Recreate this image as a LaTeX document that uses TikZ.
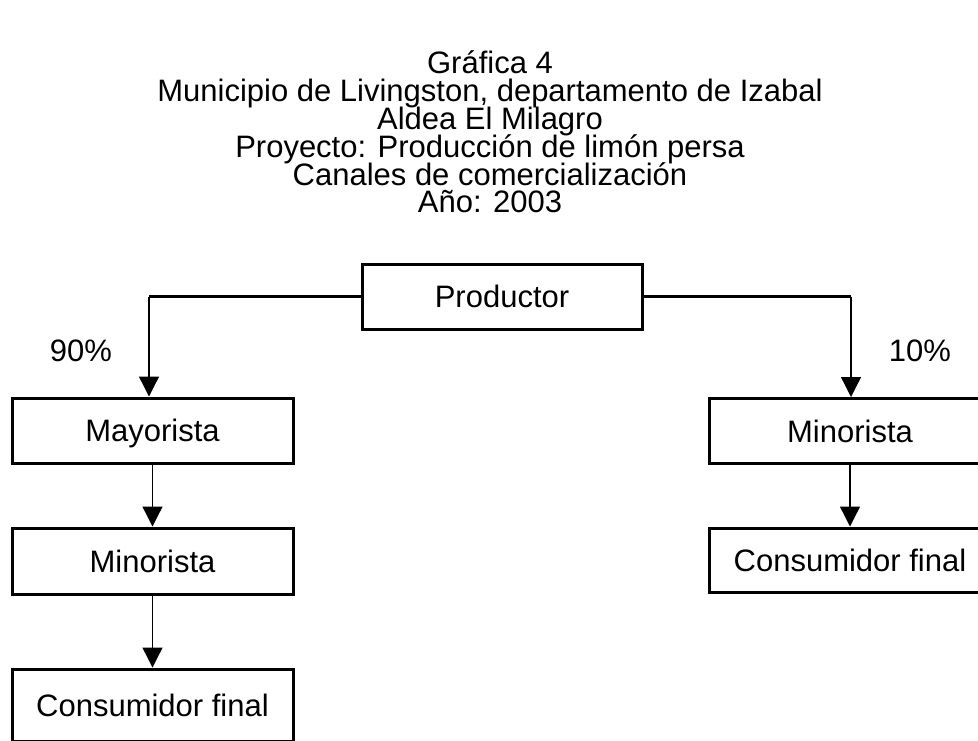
\documentclass[tikz,border=0pt]{standalone}
\usepackage{fontspec}
\setmainfont{Liberation Sans}
\usetikzlibrary{arrows.meta}
\begin{document}
\begin{tikzpicture}[x=1pt,y=-1pt,
  font=\fontsize{31}{28}\selectfont,
  box/.style={draw,line width=3pt,minimum width=281pt,minimum height=65pt,inner sep=0pt,text height=22.3pt,text depth=0pt},
  ttl/.style={anchor=base,inner sep=0pt},
  hline/.style={line width=2.5pt},
  conn/.style={line width=1.3pt,-{Triangle[width=20pt,length=20pt]}},
  pct/.style={inner sep=0pt,text height=22.3pt,text depth=0pt}]
\useasboundingbox (0,0) rectangle (978,740);
\fill[white] (0,0) rectangle (978,740);
% title
\node[ttl] (t1) at (490,73) {Gráfica 4};
\node[ttl] (t2) at (490,101) {Municipio de Livingston, departamento de Izabal};
\node[ttl] (t3) at (490,129) {Aldea El Milagro};
\node[ttl] (t4) at (490,157) {Proyecto: Producción de limón persa};
\node[ttl] (t5) at (490,185) {Canales de comercialización};
\node[ttl] (t6) at (490,212) {Año: 2003};
% boxes
\node[box,minimum width=280pt] (P) at (502,296.5) {Productor};
\node[box] (M) at (152.5,430.5) {Mayorista};
\node[box,minimum height=66pt] (Mi) at (152.5,561) {Minorista};
\node[box,minimum height=72pt] (C) at (152.5,705) {Consumidor final};
\node[box] (Mr) at (850,431) {Minorista};
\node[box,minimum height=64pt] (Cr) at (850,560) {Consumidor final};
% labels
\node[pct] (p90) at (81,350) {90\%};
\node[pct] (p10) at (920,350) {10\%};
% connectors
\coordinate (cl) at (149,296.5);
\coordinate (cr) at (851,296.5);
\draw[hline] (P.west) -- (cl);
\draw[hline] (P.east) -- (cr);
\draw[conn] (cl) -- (cl |- M.north);
\draw[conn] (cr) -- (cr |- Mr.north);
\draw[conn] (M.south) -- (Mi.north);
\draw[conn] (Mi.south) -- (C.north);
\draw[conn] (Mr.south) -- (Cr.north);
\end{tikzpicture}
\end{document}
